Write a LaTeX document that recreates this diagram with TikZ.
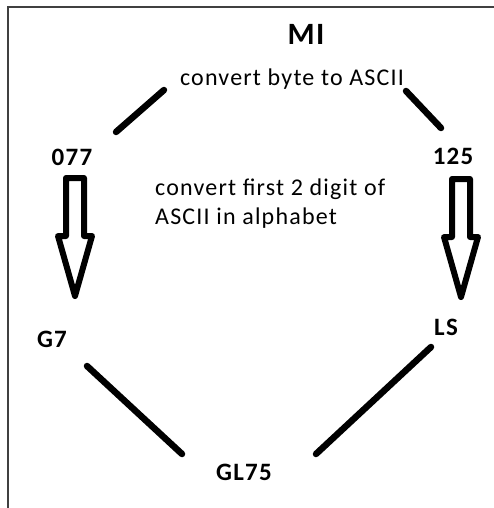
\documentclass[tikz,border=0pt]{standalone}
\usepackage{fontspec}
\setmainfont{Carlito}
\begin{document}
\begin{tikzpicture}[x=1pt,y=-1pt,
  txt/.style={inner sep=0pt, anchor=base, font=\fontsize{24}{29}\selectfont\addfontfeature{LetterSpace=5}},
  lbl/.style={inner sep=0pt, anchor=base, font=\fontsize{25}{28}\selectfont\bfseries\addfontfeature{LetterSpace=5}},
  link/.style={line width=6.5pt, line cap=round},
  frame/.style={draw=black!75, line width=2pt},
  pics/hollowarrow/.style={code={
    \draw[line width=6pt, line join=round]
      (-9,0) -- (9,0) -- (9,58) -- (17,58) -- (0,118) -- (-17,58) -- (-9,58) -- cycle;
  }}]
\useasboundingbox (0,0) rectangle (494,508);
% frame edges
\draw[frame] (8,508) -- (8,7) -- (494,7);

% labels
\node[inner sep=0pt, anchor=base, font=\fontsize{31}{31}\selectfont\bfseries\addfontfeature{LetterSpace=4}] (mi) at (306,45) {MI};
\node[txt] (conv) at (292,86) {convert byte to ASCII};
\node[txt, anchor=base west, align=left] (rule) at (155,224) {convert first 2 digit of\\ASCII in alphabet};
\node[lbl] (a) at (72,165) {077};
\node[lbl] (b) at (453,164) {125};
\node[lbl] (c) at (52,347) {G7};
\node[lbl] (d) at (446,335) {LS};
\node[lbl] (e) at (244,480) {GL75};

% connector ends
\coordinate (convL) at (164,90);
\coordinate (aT) at (116,132);
\coordinate (convR) at (406,91);
\coordinate (bT) at (441,128);
\coordinate (cB) at (87,366);
\coordinate (eL) at (182,454);
\coordinate (dB) at (431,347);
\coordinate (eR) at (316,454);

\draw[link] (convL) -- (aT);
\draw[link] (convR) -- (bT);
\draw[link] (cB) -- (eL);
\draw[link] (dB) -- (eR);

% hollow arrows from the ASCII codes down to the letters
\pic at (75,178) {hollowarrow};
\pic at (461,179) {hollowarrow};
\end{tikzpicture}
\end{document}
